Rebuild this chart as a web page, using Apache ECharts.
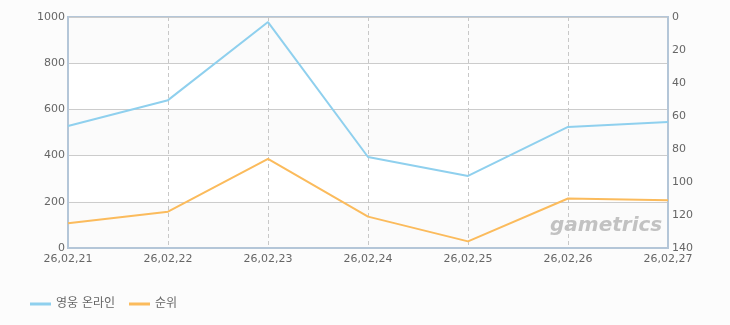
<!DOCTYPE html>
<html><head><meta charset="utf-8">
<script src="https://cdn.jsdelivr.net/npm/echarts@6/dist/echarts.min.js"></script>
<style>html,body{margin:0;padding:0;background:#fcfcfc}#c{width:730px;height:325px}</style>
</head><body><div id="c"></div>
<script>
const categories = ['26,02,21','26,02,22','26,02,23','26,02,24','26,02,25','26,02,26','26,02,27'];
const seriesNames = ['영웅 온라인','순위'];
const playerValues = [528, 640, 978, 394, 312, 524, 545];
const rankValues = [125, 118, 86, 121, 136, 110, 111];
const leftTicks = [0, 1000, 200];
const rightTicks = [0, 140, 20];

const font = '"DejaVu Sans", "Noto Sans CJK KR", sans-serif';
const chart = echarts.init(document.getElementById('c'), null, {renderer:'canvas'});
chart.setOption({
  backgroundColor: '#fcfcfc',
  animation: false,
  grid: {left: 68, right: 62, top: 17, bottom: 77, show: true, borderColor: '#b4c6d8', borderWidth: 2, backgroundColor: 'transparent'},
  legend: {
    left: 25, top: 293, itemWidth: 21, itemHeight: 3, itemGap: 14,
    icon: 'rect',
    textStyle: {color: '#666', fontSize: 12, fontFamily: font},
    data: seriesNames
  },
  xAxis: {
    type: 'category', data: categories, boundaryGap: false,
    axisLine: {lineStyle: {color: '#b4c6d8', width: 2}},
    axisTick: {show: false},
    axisLabel: {color: '#666', fontSize: 11, fontFamily: font, margin: 6, showMaxLabel: true, showMinLabel: true, interval: 0},
    splitLine: {show: true, lineStyle: {color: '#c8c8c8', type: [4, 3], width: 1}}
  },
  yAxis: [{
    type: 'value', min: leftTicks[0], max: leftTicks[1], interval: leftTicks[2],
    axisLine: {show: true, lineStyle: {color: '#b4c6d8', width: 2}},
    axisTick: {show: false},
    axisLabel: {color: '#666', fontSize: 11, fontFamily: font, margin: 3, formatter: v => String(v)},
    splitLine: {show: true, lineStyle: {color: '#cccccc', width: 1}},
    splitArea: {show: true, areaStyle: {color: ['#fbfbfb', '#ffffff']}}
  }, {
    type: 'value', inverse: true, min: rightTicks[0], max: rightTicks[1], interval: rightTicks[2],
    axisLine: {show: true, lineStyle: {color: '#b4c6d8', width: 2}},
    axisTick: {show: false},
    axisLabel: {color: '#666', fontSize: 11, fontFamily: font, margin: 4},
    splitLine: {show: false}
  }],
  graphic: [{
    type: 'text', left: 550, top: 216, z: 1,
    style: {text: 'gametrics', fill: '#c2c2c2', font: 'italic bold 20px "DejaVu Sans", sans-serif'}
  }],
  series: [{
    name: seriesNames[0], type: 'line', yAxisIndex: 0, data: playerValues,
    symbol: 'none', smooth: false, z: 5,
    lineStyle: {color: '#8fd0ee', width: 2},
    itemStyle: {color: '#8fd0ee'}
  }, {
    name: seriesNames[1], type: 'line', yAxisIndex: 1, data: rankValues,
    symbol: 'none', smooth: false, z: 5,
    lineStyle: {color: '#fbbb5c', width: 2},
    itemStyle: {color: '#fbbb5c'}
  }]
});
</script></body></html>
